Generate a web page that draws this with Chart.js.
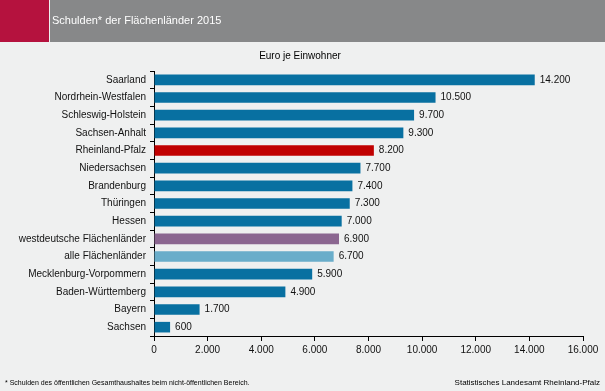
<!DOCTYPE html>
<html>
<head>
<meta charset="utf-8">
<script src="https://cdn.jsdelivr.net/npm/chart.js@4/dist/chart.umd.min.js"></script>
<style>
  html, body { margin: 0; padding: 0; background: #eff0f0; }
  #wrap { width: 605px; height: 391px; position: relative; }
</style>
</head>
<body>
<div id="wrap"><canvas id="chart" width="605" height="391"></canvas></div>
<script>
// Data
const categories = [
    "Saarland", "Nordrhein-Westfalen", "Schleswig-Holstein", "Sachsen-Anhalt",
    "Rheinland-Pfalz", "Niedersachsen", "Brandenburg", "Thüringen", "Hessen",
    "westdeutsche Flächenländer", "alle Flächenländer", "Mecklenburg-Vorpommern",
    "Baden-Württemberg", "Bayern", "Sachsen"
];
const debtPerCapita = [14200, 10500, 9700, 9300, 8200, 7700, 7400, 7300, 7000, 6900, 6700, 5900, 4900, 1700, 600];
const xTicks = [0, 2000, 4000, 6000, 8000, 10000, 12000, 14000, 16000];

const titleText = "Schulden* der Flächenländer 2015";
const unitText = "Euro je Einwohner";
const footnoteText = "* Schulden des öffentlichen Gesamthaushaltes beim nicht-öffentlichen Bereich.";
const sourceText = "Statistisches Landesamt Rheinland-Pfalz";

const FONT = "'Liberation Sans', Arial, sans-serif";

// German thousands separator
function fmt(v) {
    return v.toString().replace(/\B(?=(\d{3})+(?!\d))/g, ".");
}

// Bar colours: highlight RLP and the averages
const barColors = categories.map(c => {
    if (c === "Rheinland-Pfalz") return "#c00000";
    if (c === "westdeutsche Flächenländer") return "#8b6690";
    if (c === "alle Flächenländer") return "#69adca";
    return "#0870a1";
});

// Header, subtitle and footer
const framePlugin = {
    id: "frame",
    beforeDraw(chart) {
        const ctx = chart.ctx;
        ctx.save();
        ctx.fillStyle = "#eff0f0";
        ctx.fillRect(0, 0, chart.width, chart.height);
        ctx.fillStyle = "#b5123e";
        ctx.fillRect(0, 0, 49, 42);
        ctx.fillStyle = "#878889";
        ctx.fillRect(50, 0, chart.width - 50, 42);
        ctx.fillStyle = "#ffffff";
        ctx.font = "11px " + FONT;
        ctx.textBaseline = "middle";
        ctx.fillText(titleText, 52, 21);

        ctx.fillStyle = "#000000";
        ctx.font = "10px " + FONT;
        ctx.textAlign = "center";
        ctx.fillText(unitText, 300, 56);

        ctx.font = "7px " + FONT;
        ctx.textAlign = "left";
        ctx.fillText(footnoteText, 5, 383);
        ctx.font = "8px " + FONT;
        ctx.textAlign = "right";
        ctx.fillText(sourceText, 600, 383);
        ctx.restore();
    }
};

// Value labels at bar ends
const valueLabels = {
    id: "valueLabels",
    afterDatasetsDraw(chart) {
        const ctx = chart.ctx;
        const meta = chart.getDatasetMeta(0);
        ctx.save();
        ctx.fillStyle = "#111111";
        ctx.font = "10px " + FONT;
        ctx.textBaseline = "middle";
        meta.data.forEach((bar, i) => {
            ctx.fillText(fmt(debtPerCapita[i]), bar.x + 5, bar.y);
        });
        ctx.restore();
    }
};

new Chart(document.getElementById("chart"), {
    type: "bar",
    data: {
        labels: categories,
        datasets: [{
            data: debtPerCapita,
            backgroundColor: barColors,
            categoryPercentage: 1,
            barPercentage: 0.6
        }]
    },
    options: {
        indexAxis: "y",
        responsive: false,
        animation: false,
        layout: { padding: { top: 71, right: 22, left: 0, bottom: 0 } },
        plugins: {
            legend: { display: false },
            tooltip: { enabled: false }
        },
        scales: {
            x: {
                min: 0,
                max: 16000,
                afterBuildTicks(axis) {
                    axis.ticks = xTicks.map(v => ({ value: v }));
                },
                afterFit(axis) { axis.height = 55; },
                grid: { drawOnChartArea: false, drawTicks: true, tickLength: 5, color: "#000000" },
                border: { color: "#000000", width: 1 },
                ticks: {
                    color: "#111111",
                    font: { family: FONT, size: 10 },
                    padding: 3,
                    maxRotation: 0,
                    callback: v => fmt(v)
                }
            },
            y: {
                afterFit(axis) { axis.width = 154; },
                grid: { offset: true, drawOnChartArea: false, drawTicks: true, tickLength: 4, color: "#000000" },
                border: { color: "#000000", width: 1 },
                ticks: {
                    color: "#111111",
                    font: { family: FONT, size: 10 },
                    padding: 4
                }
            }
        }
    },
    plugins: [framePlugin, valueLabels]
});
</script>
</body>
</html>
